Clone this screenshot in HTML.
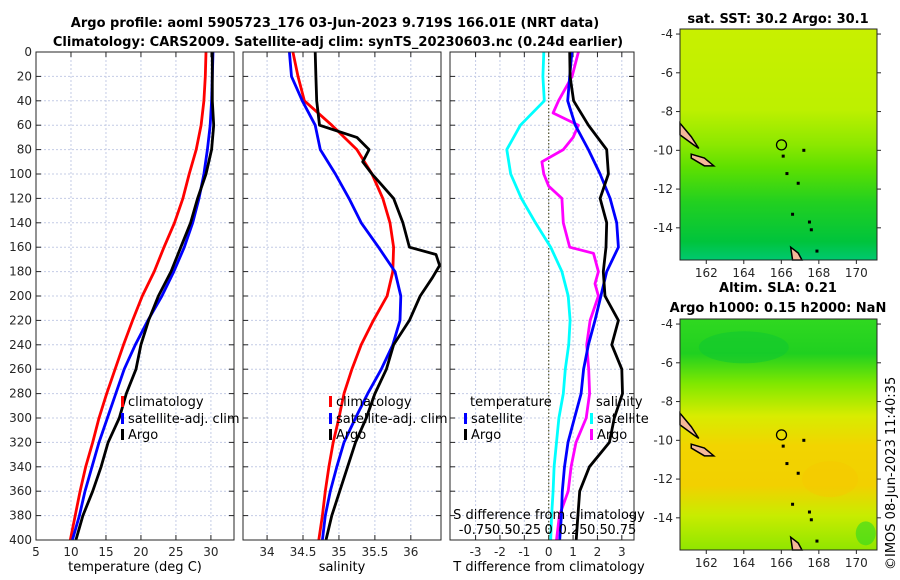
<!DOCTYPE html>
<html><head><meta charset="utf-8">
<style>
body{margin:0;background:#fff;}
svg{display:block;font-family:"DejaVu Sans","Liberation Sans",sans-serif;}
.tk{font-size:12px;fill:#262626;}
.ttl{font-size:13px;font-weight:bold;fill:#000;}
.lg{font-size:13px;fill:#000;}
</style></head>
<body>
<svg id="chart" width="900" height="580" viewBox="0 0 900 580">
<text class="ttl" x="335" y="27" text-anchor="middle">Argo profile: aoml 5905723_176 03-Jun-2023 9.719S 166.01E (NRT data)</text>
<text class="ttl" x="338" y="46" text-anchor="middle">Climatology: CARS2009. Satellite-adj clim: synTS_20230603.nc (0.24d earlier)</text>
<g id="panels"></g>
<g id="maps"></g>
</svg>
<script>
// ---- data ----
const depths = [0,20,40,60,80,100,120,140,160,180,200,220,240,260,280,300,320,340,360,380,400];
const tempClim = [29.3,29.2,29.0,28.6,27.9,26.9,26.0,24.8,23.3,21.9,20.2,18.8,17.5,16.3,15.1,14.0,13.1,12.1,11.3,10.6,9.9];
const tempSat  = [30.3,30.2,30.1,29.9,29.5,29.0,28.3,27.4,26.2,24.7,23.0,21.0,19.2,17.6,16.4,15.2,14.0,13.0,12.0,11.2,10.2];
const tempArgo = [30.2,30.2,30.2,30.4,30.1,29.3,28.1,27.1,25.7,24.3,22.5,21.1,20.0,19.3,17.9,16.9,15.3,14.3,13.1,11.7,10.7];
const salClim  = [34.36,34.43,34.52,34.90,35.25,35.46,35.61,35.71,35.76,35.75,35.67,35.48,35.31,35.18,35.07,35.00,34.92,34.86,34.81,34.77,34.72];
const salSat   = [34.31,34.34,34.49,34.67,34.74,34.95,35.14,35.31,35.55,35.78,35.86,35.85,35.75,35.59,35.40,35.23,35.07,34.97,34.88,34.81,34.77];
const argoSalDepths = [0,20,40,60,70,80,90,100,120,140,160,166,175,185,200,220,240,260,280,300,320,340,360,380,400];
const salArgo  = [34.67,34.68,34.69,34.73,35.25,35.42,35.33,35.46,35.76,35.89,35.98,36.35,36.4,36.3,36.13,35.98,35.76,35.66,35.50,35.38,35.23,35.12,35.01,34.90,34.82];
const tDiffSat = [0.95,0.86,0.78,1.09,1.63,2.11,2.52,2.79,2.86,2.38,2.14,1.90,1.63,1.43,1.33,1.06,0.79,0.65,0.56,0.52,0.45];
const tDiffArgo= [0.86,0.88,1.02,1.63,2.38,2.45,2.11,2.38,2.35,2.24,2.31,2.86,2.59,3.0,3.03,2.69,2.49,1.67,1.27,1.20,1.13];
const sDiffSat = [-0.05,-0.06,-0.045,-0.29,-0.43,-0.39,-0.28,-0.135,0.02,0.135,0.2,0.22,0.205,0.17,0.15,0.105,0.08,0.055,0.045,0.03,0.02];
const sDiffArgoDepths = [0,20,40,50,60,70,80,90,100,110,120,140,160,165,180,190,200,220,240,260,280,300,320,340,360,380,400];
const sDiffArgo = [0.305,0.24,0.10,0.045,0.305,0.25,0.15,-0.07,-0.05,0,0.135,0.15,0.215,0.46,0.51,0.475,0.51,0.425,0.39,0.41,0.42,0.385,0.28,0.23,0.2,0.11,0.08];
const depthTicks = [0,20,40,60,80,100,120,140,160,180,200,220,240,260,280,300,320,340,360,380,400];
const tempTicks = [5,10,15,20,25,30];
const salTicks = [34,34.5,35,35.5,36];
const tdTicks = [-3,-2,-1,0,1,2,3];
const sdTicks = [-0.75,-0.5,-0.25,0,0.25,0.5,0.75];
const sdTickLabels = ["-0.75","-0.5","-0.25","0","0.25","0.5","0.75"];

const NS="http://www.w3.org/2000/svg";
function mk(tag,attrs,parent){const e=document.createElementNS(NS,tag);for(const k in attrs)e.setAttribute(k,attrs[k]);if(parent)parent.appendChild(e);return e;}
const Y0=52,Y1=540;
const yD = d => Y0 + d*(Y1-Y0)/400;
const P = document.getElementById('panels');

function panel(name,x0,x1,vmin,vmax,ticks,showY){
  const g=mk('g',{},P);
  
  
  const sx=v=>x0+(v-vmin)*(x1-x0)/(vmax-vmin);
  mk('rect',{x:x0,y:Y0,width:x1-x0,height:Y1-Y0,fill:'#fff'},g);
  depthTicks.forEach(d=>{
    if(d>0&&d<400)mk('line',{x1:x0,x2:x1,y1:yD(d),y2:yD(d),stroke:'#c4cce6','stroke-width':1,'stroke-dasharray':'2,2'},g);
    mk('line',{x1:x0,x2:x0+5,y1:yD(d),y2:yD(d),stroke:'#262626'},g);
    mk('line',{x1:x1-5,x2:x1,y1:yD(d),y2:yD(d),stroke:'#262626'},g);
    if(showY){const t=mk('text',{x:x0-4,y:yD(d)+4,'text-anchor':'end',class:'tk'},g);t.textContent=d;
      
      }
  });
  ticks.forEach(v=>{
    const x=sx(v);
    mk('line',{x1:x,x2:x,y1:Y0,y2:Y1,stroke:'#c4cce6','stroke-width':1,'stroke-dasharray':'2,2'},g);
    mk('line',{x1:x,x2:x,y1:Y1-5,y2:Y1,stroke:'#262626'},g);
    mk('line',{x1:x,x2:x,y1:Y0,y2:Y0+5,stroke:'#262626'},g);
    const t=mk('text',{x:x,y:Y1+16,'text-anchor':'middle',class:'tk'},g);t.textContent=v;
    
    
  });
  const cp='clip-'+name;
  const c=mk('clipPath',{id:cp},g);mk('rect',{x:x0,y:Y0,width:x1-x0,height:Y1-Y0},c);
  const lines=mk('g',{'clip-path':'url(#'+cp+')'},g);
  return {g,sx,lines,x0,x1};
}
function series(p,name,ds,vs,col,sx){
  const f=sx||p.sx;
  const d=vs.map((v,i)=>(i?'L':'M')+f(v).toFixed(1)+','+yD(ds[i]).toFixed(1)).join('');
  const e=mk('path',{d:d,fill:'none',stroke:col,'stroke-width':2.8,'stroke-linejoin':'round'},p.lines);
  
  
}
function frame(p){mk('rect',{x:p.x0,y:Y0,width:p.x1-p.x0,height:Y1-Y0,fill:'none',stroke:'#262626','stroke-width':1},p.g);}
function txt(p,name,x,y,s,cls,anchor){const t=mk('text',{x:x,y:y,class:cls||'lg','text-anchor':anchor||'start'},p.g);t.textContent=s;
  
  return t;}
function legend(p,name,x,y,col,label){
  const r=mk('rect',{x:x,y:y-10,width:3,height:11,fill:col},p.g);
  
  
  txt(p,name,x+7,y,label);
}

// panel 1 temperature
const p1=panel('temperature-panel',36,234,5,33.3,tempTicks,true);
series(p1,'temp-climatology-line',depths,tempClim,'#ff0000');
series(p1,'temp-satellite-line',depths,tempSat,'#0000ff');
series(p1,'temp-argo-line',depths,tempArgo,'#000000');
frame(p1);
legend(p1,'legend-climatology',121,406,'#ff0000','climatology');
legend(p1,'legend-satellite-adj',121,423,'#0000ff','satellite-adj. clim');
legend(p1,'legend-argo',121,439,'#000000','Argo');
txt(p1,'temperature-axis-title',135,571,'temperature (deg C)','lg','middle');

// panel 2 salinity
const p2=panel('salinity-panel',243,441,33.665,36.42,salTicks,false);
series(p2,'sal-climatology-line',depths,salClim,'#ff0000');
series(p2,'sal-satellite-line',depths,salSat,'#0000ff');
series(p2,'sal-argo-line',argoSalDepths,salArgo,'#000000');
frame(p2);
legend(p2,'legend-climatology-2',329,406,'#ff0000','climatology');
legend(p2,'legend-satellite-adj-2',329,423,'#0000ff','satellite-adj. clim');
legend(p2,'legend-argo-2',329,439,'#000000','Argo');
txt(p2,'salinity-axis-title',342,571,'salinity','lg','middle');

// panel 3 differences
const p3=panel('difference-panel',450,634,-4.05,3.5,tdTicks,false);
const sxS=v=>p3.sx(v*4);
mk('line',{x1:p3.sx(0),x2:p3.sx(0),y1:Y0,y2:Y1,stroke:'#55552a','stroke-width':1.2,'stroke-dasharray':'1.5,2'},p3.lines);
series(p3,'sdiff-satellite-line',depths,sDiffSat,'#00ffff',sxS);
series(p3,'sdiff-argo-line',sDiffArgoDepths,sDiffArgo,'#ff00ff',sxS);
series(p3,'tdiff-satellite-line',depths,tDiffSat,'#0000ff');
series(p3,'tdiff-argo-line',depths,tDiffArgo,'#000000');
frame(p3);
txt(p3,'legend-temperature-heading',470,406,'temperature');
legend(p3,'legend-t-satellite',464,423,'#0000ff','satellite');
legend(p3,'legend-t-argo',464,439,'#000000','Argo');
txt(p3,'legend-salinity-heading',596,406,'salinity');
legend(p3,'legend-s-satellite',590,423,'#00ffff','satellite');
legend(p3,'legend-s-argo',590,439,'#ff00ff','Argo');
txt(p3,'s-diff-axis-title',549,519,'S difference from climatology','lg','middle');
sdTicks.forEach((v,i)=>{txt(p3,'s-diff-tick-label',sxS(v),534,sdTickLabels[i],'lg','middle');});
txt(p3,'t-diff-axis-title',549,571,'T difference from climatology','lg','middle');
</script>
<svg width="0" height="0" style="position:absolute">
<defs>
<linearGradient id="sst" x1="0" y1="0" x2="0" y2="1">
<stop offset="0" stop-color="#c8f000"/><stop offset="0.35" stop-color="#bdf000"/>
<stop offset="0.5" stop-color="#8ce800"/><stop offset="0.6" stop-color="#5ee000"/>
<stop offset="0.75" stop-color="#22d020"/><stop offset="0.92" stop-color="#00c43c"/><stop offset="1" stop-color="#00c870"/>
</linearGradient>
<linearGradient id="sla" x1="0" y1="0" x2="0" y2="1">
<stop offset="0" stop-color="#30d820"/><stop offset="0.15" stop-color="#20d020"/>
<stop offset="0.28" stop-color="#80e800"/><stop offset="0.42" stop-color="#d8ec00"/>
<stop offset="0.55" stop-color="#f2d400"/><stop offset="0.72" stop-color="#f2d000"/>
<stop offset="0.85" stop-color="#c8ec00"/><stop offset="1" stop-color="#90e600"/>
</linearGradient>
</defs>
</svg>
<script>
const svg=document.getElementById('chart');
const M=document.getElementById('maps');
const NS2="http://www.w3.org/2000/svg";
function mk2(tag,a,p){const e=document.createElementNS(NS2,tag);for(const k in a)e.setAttribute(k,a[k]);p.appendChild(e);return e;}
const lonTicks=[162,164,166,168,170];
const latTicks=[-4,-6,-8,-10,-12,-14];
const lonMin=160.6,lonMax=171.1,latMax=-3.74,latMin=-15.66;
const argoLon=166.01, argoLat=-9.719;
function map(name,y0,fill,title1,title2){
  const g=mk2('g',{},M);
  
  
  const x0=680,x1=877,y1=y0+231;
  const sx=l=>x0+(l-lonMin)*(x1-x0)/(lonMax-lonMin);
  const sy=l=>y0+(latMax-l)*(y1-y0)/(latMax-latMin);
  mk2('rect',{x:x0,y:y0,width:x1-x0,height:y1-y0,fill:'url(#'+fill+')'},g);
  if(fill==='sla'){
    mk2('ellipse',{cx:sx(164),cy:sy(-5.2),rx:45,ry:16,fill:'#10c830',opacity:0.6},g);
    mk2('ellipse',{cx:sx(168.6),cy:sy(-12),rx:28,ry:18,fill:'#f6c800',opacity:0.5},g);
    mk2('ellipse',{cx:sx(170.5),cy:sy(-14.8),rx:10,ry:12,fill:'#30d820',opacity:0.6},g);
  }
  // islands
  const isl=[[[160.6,-8.6],[161.2,-9.3],[161.6,-9.9],[161.3,-9.7],[160.6,-9.2]],
             [[161.2,-10.2],[161.9,-10.4],[162.4,-10.8],[161.9,-10.8],[161.2,-10.4]],
             [[166.5,-15.0],[166.9,-15.3],[167.1,-15.66],[166.6,-15.66]]];
  isl.forEach(pts=>{
    const p=mk2('path',{d:pts.map((q,i)=>(i?'L':'M')+sx(q[0])+','+sy(q[1])).join('')+'Z',fill:'#f5b898',stroke:'#000','stroke-width':1.5},g);
    
    
  });
  [[166.3,-11.2],[166.9,-11.7],[167.2,-10.0],[167.5,-13.7],[167.6,-14.1],[167.9,-15.2],[166.1,-10.3],[166.6,-13.3]].forEach(q=>{
    mk2('rect',{x:sx(q[0])-1.5,y:sy(q[1])-1.5,width:3,height:3,fill:'#000'},g);
  });
  const c=mk2('circle',{cx:sx(argoLon),cy:sy(argoLat),r:5,fill:'none',stroke:'#000','stroke-width':1.3},g);
  
  
  mk2('rect',{x:x0,y:y0,width:x1-x0,height:y1-y0,fill:'none',stroke:'#262626'},g);
  lonTicks.forEach(l=>{
    mk2('line',{x1:sx(l),x2:sx(l),y1:y1,y2:y1+4,stroke:'#262626'},g);
    const t=mk2('text',{x:sx(l),y:y1+17,'text-anchor':'middle',class:'tk'},g);t.textContent=l;
    
    
  });
  latTicks.forEach(l=>{
    mk2('line',{x1:x0-4,x2:x0,y1:sy(l),y2:sy(l),stroke:'#262626'},g);
    mk2('line',{x1:x1,x2:x1+4,y1:sy(l),y2:sy(l),stroke:'#262626'},g);
    const t=mk2('text',{x:x0-7,y:sy(l)+4,'text-anchor':'end',class:'tk'},g);t.textContent=l;
    
    
  });
  [title1,title2].forEach((s,i)=>{ if(!s)return;
    const t=mk2('text',{x:778,y:(title2?y0-27:y0-6)+i*20,'text-anchor':'middle',class:'ttl'},g);t.textContent=s;
    
    
  });
}
map('sst-map',29,'sst','sat. SST: 30.2 Argo: 30.1',null);
map('sla-map',319,'sla','Altim. SLA: 0.21','Argo h1000: 0.15 h2000: NaN');
const ts=mk2('text',{x:0,y:0,class:'lg',transform:'translate(895,570) rotate(-90)'},M);
ts.textContent='©IMOS 08-Jun-2023 11:40:35';


</script>
</body></html>
